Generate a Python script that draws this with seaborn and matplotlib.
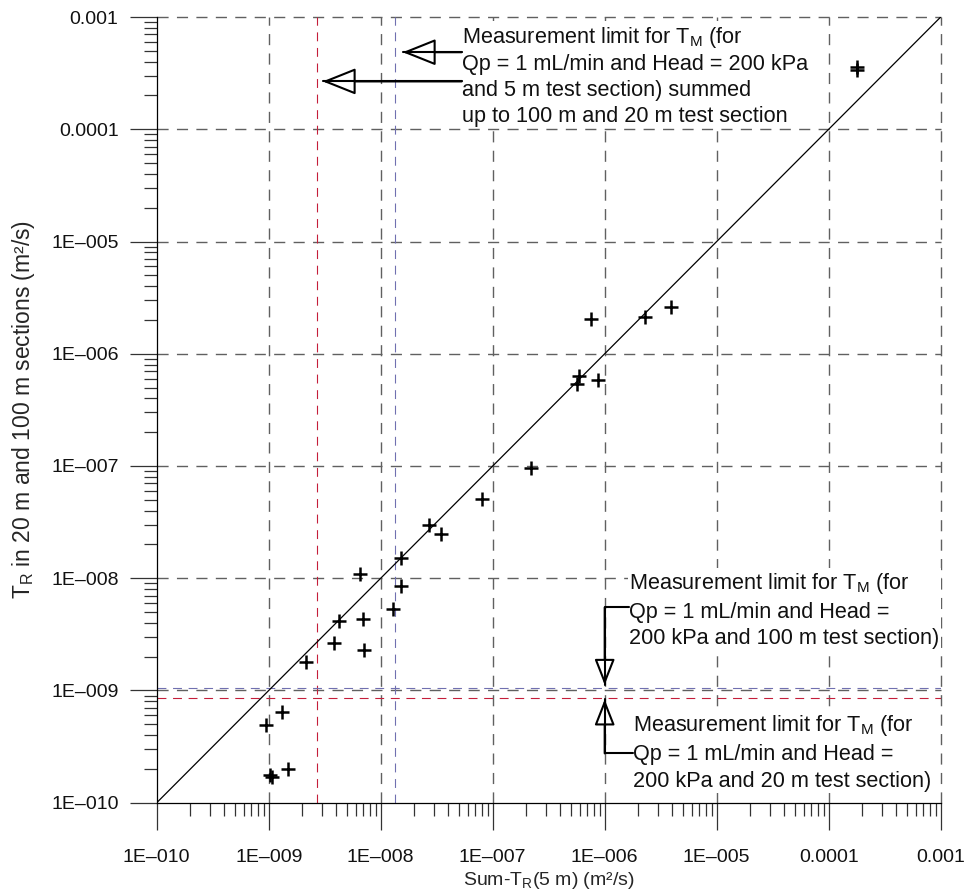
import numpy as np
import pandas as pd
import matplotlib
matplotlib.use("Agg")
import matplotlib.pyplot as plt
import seaborn as sns
from matplotlib.ticker import FixedLocator, FixedFormatter, NullFormatter

# ---------------- data ----------------
sum_tr_5m = [9.4e-10, 1.31e-9, 1.02e-9, 1.06e-9, 1.48e-9, 2.15e-9, 3.85e-9, 4.24e-9,
             7.0e-9, 7.1e-9, 6.5e-9, 1.28e-8, 1.52e-8, 1.52e-8, 2.72e-8, 3.43e-8,
             8.1e-8, 2.18e-7, 5.6e-7, 5.93e-7, 8.8e-7, 7.5e-7, 2.3e-6, 3.9e-6,
             1.78e-4, 1.78e-4]
tr_sections = [4.92e-10, 6.46e-10, 1.76e-10, 1.68e-10, 2.0e-10, 1.78e-9, 2.66e-9, 4.2e-9,
               4.3e-9, 2.29e-9, 1.08e-8, 5.27e-9, 1.52e-8, 8.5e-9, 2.97e-8, 2.47e-8,
               5.06e-8, 9.5e-8, 5.43e-7, 6.34e-7, 5.8e-7, 2.06e-6, 2.13e-6, 2.61e-6,
               3.58e-4, 3.34e-4]

decades = [1e-10, 1e-9, 1e-8, 1e-7, 1e-6, 1e-5, 1e-4, 1e-3]
tick_labels = ["1E\u2013010", "1E\u2013009", "1E\u2013008", "1E\u2013007",
               "1E\u2013006", "1E\u2013005", "0.0001", "0.001"]

# measurement limits
limit_summed_20m_x = 2.7e-9     # red vertical
limit_summed_100m_x = 1.35e-8   # blue vertical
limit_100m_y = 1.06e-9          # blue horizontal
limit_20m_y = 0.85e-9           # red horizontal

df = pd.DataFrame({"sum_tr_5m": sum_tr_5m, "tr_sections": tr_sections})

# ---------------- style ----------------
sns.set_theme(style="white")
plt.rcParams["font.family"] = ["Liberation Sans", "DejaVu Sans"]
plt.rcParams["mathtext.fontset"] = "custom"
plt.rcParams["mathtext.rm"] = "Liberation Sans"
plt.rcParams["mathtext.it"] = "Liberation Sans"
plt.rcParams["text.color"] = "#111111"

FS = 14
FS_ANN = 15.6
LS = 1.35
RED = "#c41e3a"
BLUE = "#7070b0"
GRID = "#606060"

fig = plt.figure(figsize=(9.64, 8.92), dpi=100)
ax = fig.add_axes([0.1626, 0.1001, 0.8132, 0.8808])
ax.set_xscale("log")
ax.set_yscale("log")
ax.set_xlim(decades[0], decades[-1])
ax.set_ylim(decades[0], decades[-1])

# grid (dashed) at decades
dash = (0, (8.0, 6.0))
for d in decades[1:]:
    ax.axvline(d, color=GRID, lw=1.0, ls=dash, zorder=0.5, clip_on=False)
    ax.axhline(d, color=GRID, lw=1.0, ls=dash, zorder=0.5, clip_on=False)

# measurement limit lines
ax.axvline(limit_summed_20m_x, color=RED, lw=0.8, ls=dash, zorder=0.6)
ax.axvline(limit_summed_100m_x, color=BLUE, lw=0.8, ls=dash, zorder=0.6)
ax.axhline(limit_100m_y, color=BLUE, lw=0.8, ls=dash, zorder=0.6)
ax.axhline(limit_20m_y, color=RED, lw=0.8, ls=dash, zorder=0.6)

# 1:1 line
ax.plot([decades[0], decades[-1]], [decades[0], decades[-1]], color="black", lw=0.9, zorder=2)

# data
sns.scatterplot(data=df, x="sum_tr_5m", y="tr_sections", marker="+", s=100,
                color="black", linewidth=1.8, ax=ax, zorder=3, legend=False)

# ticks
ax.xaxis.set_major_locator(FixedLocator(decades))
ax.yaxis.set_major_locator(FixedLocator(decades))
ax.xaxis.set_major_formatter(FixedFormatter(tick_labels))
ax.yaxis.set_major_formatter(FixedFormatter(tick_labels))
minor = [m * d for d in decades[:-1] for m in range(2, 10)]
ax.xaxis.set_minor_locator(FixedLocator(minor))
ax.yaxis.set_minor_locator(FixedLocator(minor))
ax.xaxis.set_minor_formatter(NullFormatter())
ax.yaxis.set_minor_formatter(NullFormatter())
ax.tick_params(which="major", direction="out", length=19.5, width=0.9, color="#333333",
               labelsize=FS, bottom=True, left=True, labelcolor="#111111")
ax.tick_params(axis="x", which="major", pad=14)
ax.tick_params(axis="y", which="major", pad=8)
ax.tick_params(which="minor", direction="out", length=9.5, width=0.9, color="#333333",
               bottom=True, left=True)

for s in ["top", "right"]:
    ax.spines[s].set_visible(False)
for s in ["left", "bottom"]:
    ax.spines[s].set_color("black")
    ax.spines[s].set_linewidth(0.9)

ax.set_xlabel("Sum-T$_\\mathrm{R}$(5 m) (m\u00b2/s)", fontsize=FS, labelpad=3)
ax.set_ylabel("T$_\\mathrm{R}$ in 20 m and 100 m sections (m\u00b2/s)", fontsize=16.5, labelpad=10)

box = dict(facecolor="white", edgecolor="none", pad=1.0)

# top annotation
ax.text(5.28e-8, 3.0e-4,
        "Measurement limit for T$_\\mathrm{M}$ (for\nQp = 1 mL/min and Head = 200 kPa\n"
        "and 5 m test section) summed\nup to 100 m and 20 m test section",
        fontsize=FS_ANN, ha="left", va="center", linespacing=1.3, bbox=box, zorder=4)

def head(xy, xytext, hl, hw):
    ax.annotate("", xy=xy, xytext=xytext,
                arrowprops=dict(arrowstyle=f"-|>,head_length={hl},head_width={hw}",
                                fc="white", ec="black", lw=1.5, shrinkA=0, shrinkB=0,
                                mutation_scale=10), zorder=5)

# upper arrows
head((1.57e-8, 4.86e-4), (5.28e-8, 4.86e-4), 2.1, 0.84)
ax.plot([1.57e-8, 5.28e-8], [4.86e-4, 4.86e-4], color="black", lw=1.5, zorder=6)
head((3.03e-9, 2.67e-4), (5.28e-8, 2.67e-4), 2.1, 0.84)
ax.plot([3.03e-9, 5.28e-8], [2.67e-4, 2.67e-4], color="black", lw=1.5, zorder=6)

# lower right annotations
ax.text(1.66e-6, 5.2e-9,
        "Measurement limit for T$_\\mathrm{M}$ (for\nQp = 1 mL/min and Head =\n"
        "200 kPa and 100 m test section)",
        fontsize=FS_ANN, ha="left", va="center", linespacing=LS, bbox=box, zorder=4)
ax.text(1.78e-6, 2.8e-10,
        "Measurement limit for T$_\\mathrm{M}$ (for\nQp = 1 mL/min and Head =\n"
        "200 kPa and 20 m test section)",
        fontsize=FS_ANN, ha="left", va="center", linespacing=LS, bbox=box, zorder=4)

head((1e-6, 1.12e-9), (1e-6, 5.5e-9), 1.6, 0.63)
ax.plot([1.66e-6, 1e-6, 1e-6], [5.5e-9, 5.5e-9, 1.12e-9], color="black", lw=1.5, zorder=6)
head((1e-6, 8.33e-10), (1e-6, 2.75e-10), 1.6, 0.63)
ax.plot([1.78e-6, 1e-6, 1e-6], [2.75e-10, 2.75e-10, 8.33e-10], color="black", lw=1.5, zorder=6)

fig.savefig("out.png", dpi=100)
